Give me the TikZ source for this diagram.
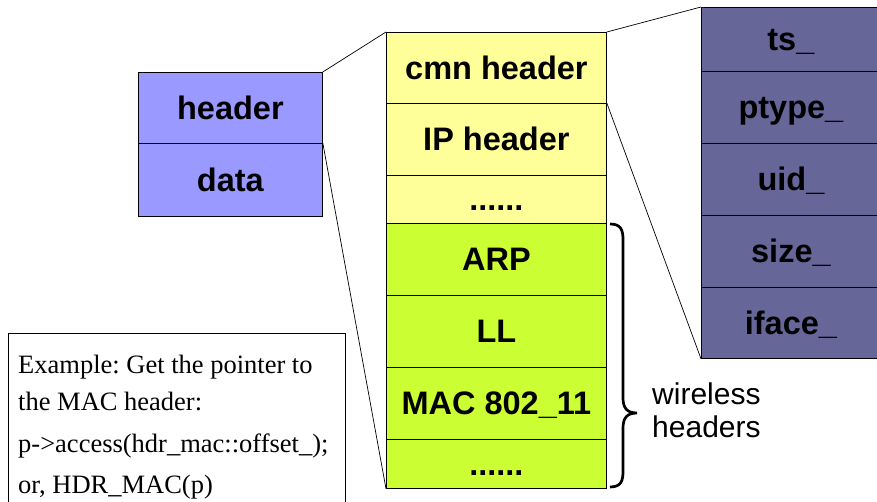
\documentclass[tikz,border=0pt]{standalone}
\usepackage{fontspec}
\setmainfont{Liberation Serif}
\newfontfamily\lsans{Liberation Sans}
\definecolor{lblue}{HTML}{9999FF}
\definecolor{lyellow}{HTML}{FFFF99}
\definecolor{lgreen}{HTML}{CCFF33}
\definecolor{dpurple}{HTML}{666699}
\tikzset{
  cell/.style={draw=black, line width=0.8pt, anchor=north west, inner sep=0pt,
    font=\lsans\bfseries\fontsize{32.5}{38}\selectfont, text height=23pt, text depth=0pt, align=center},
  leftcell/.style={cell, fill=lblue, minimum width=184pt},
  midcell/.style={cell, fill=lyellow, minimum width=220pt},
  grncell/.style={cell, fill=lgreen, minimum width=220pt},
  rcell/.style={cell, fill=dpurple, minimum width=179pt},
  conn/.style={draw=black, line width=0.7pt},
  extext/.style={anchor=base west, inner sep=0pt, font=\fontsize{26.5}{30}\selectfont},
  wtext/.style={anchor=base west, inner sep=0pt, align=left, font=\lsans\fontsize{30}{33}\selectfont},
}
\frenchspacing
\begin{document}
\frenchspacing
\begin{tikzpicture}[x=1pt,y=-1pt]
\path[clip] (0,0) rectangle (877,502);
\fill[white] (0,0) rectangle (877,502);
% left
\node[leftcell, minimum height=71pt] (hdr) at (138,72) {header};
\node[leftcell, minimum height=73pt] (dat) at (138,143) {data};
% middle
\node[midcell, minimum height=71pt] (cmn) at (386,32) {cmn header};
\node[midcell, minimum height=72pt] (ip) at (386,103) {IP header};
\node[midcell, minimum height=48pt] (dotsa) at (386,175) {......};
\node[grncell, minimum height=72pt] (arp) at (386,223) {ARP};
\node[grncell, minimum height=72pt] (ll) at (386,295) {LL};
\node[grncell, minimum height=72pt] (mac) at (386,367) {MAC 802\_11};
\node[grncell, minimum height=49pt] (dotsb) at (386,439) {......};
% right
\node[rcell, minimum height=64pt] (ts) at (701,7) {ts\_};
\node[rcell, minimum height=72pt] (ptype) at (701,71) {ptype\_};
\node[rcell, minimum height=72pt] (uid) at (701,143) {uid\_};
\node[rcell, minimum height=72pt] (size) at (701,215) {size\_};
\node[rcell, minimum height=71pt] (iface) at (701,287) {iface\_};
% connectors
\draw[conn] (hdr.north east) -- (cmn.north west);
\draw[conn] (dat.north east) -- (dotsb.south west);
\draw[conn] (cmn.north east) -- (ts.north west);
\draw[conn] (ip.north east) -- (iface.south west);
% brace
\coordinate (bt) at (610,224);
\coordinate (bb) at (610,487);
\coordinate (tip) at (637,413);
\draw[line width=2.7pt] (bt) .. controls (621,224) and (623,230) .. (623,240) -- (623,398)
  .. controls (623,408) and (627,413) .. (tip)
  .. controls (627,413) and (623,418) .. (623,428) -- (623,471)
  .. controls (623,481) and (621,487) .. (bb);
\node[wtext] (wl) at (652,404) {wireless};
\node[wtext] (hd) at (652,437) {headers};
% example box
\node[draw=black, line width=0.8pt, anchor=north west, minimum width=337pt, minimum height=190pt, inner sep=0pt] (exbox) at (8,333) {};
\node[extext] (ex1) at (18,373) {Example: Get the pointer to};
\node[extext] (ex2) at (18,410) {the MAC header:};
\node[extext] (ex3) at (18,452) {p->access(hdr\_mac::offset\_);};
\node[extext] (ex4) at (18,493) {or, HDR\_MAC(p)};
\end{tikzpicture}
\end{document}
